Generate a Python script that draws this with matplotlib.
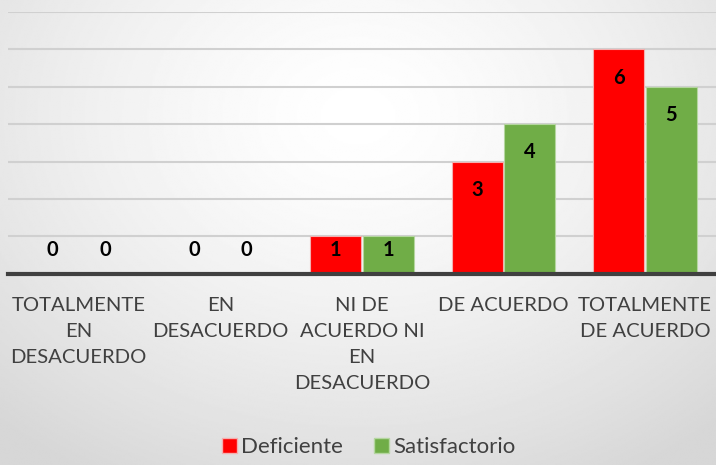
import numpy as np
import matplotlib.pyplot as plt
from matplotlib.patches import Patch

categorias = ["TOTALMENTE\nEN\nDESACUERDO", "EN\nDESACUERDO",
              "NI DE\nACUERDO NI\nEN\nDESACUERDO", "DE ACUERDO",
              "TOTALMENTE\nDE ACUERDO"]
deficiente = [0, 0, 1, 3, 6]
satisfactorio = [0, 0, 1, 4, 5]
series = ["Deficiente", "Satisfactorio"]
colores = ["#FF0000", "#70AD47"]
bordes = ["#f4b0b0", "#b5d6a0"]

plt.rcParams['font.family'] = ['Lato', 'DejaVu Sans']

fig = plt.figure(figsize=(7.16, 4.65), dpi=100)

# radial gray background
bg = fig.add_axes([0, 0, 1, 1], zorder=-10)
yy, xx = np.mgrid[0:1:300j, 0:1:460j]
r = np.sqrt(((xx - 0.5) / 0.75) ** 2 + ((yy - 0.25) / 0.9) ** 2)
shade = 1.0 - 0.16 * np.clip(r, 0, 1) ** 1.4
bg.imshow(shade, cmap="gray", vmin=0, vmax=1, aspect="auto",
          extent=[0, 1, 1, 0], interpolation="bilinear")
bg.axis("off")

ax = fig.add_axes([0.011, 0.411, 0.989, 0.563])
ax.set_facecolor("none")

x = np.arange(len(categorias))
w = 0.36
for i, (vals, nombre, col) in enumerate(zip([deficiente, satisfactorio], series, colores)):
    pos = x + (i - 0.5) * (w + 0.01)
    ax.bar(pos, vals, width=w, color=col, edgecolor=bordes[i],
           linewidth=0.8, zorder=3, label=nombre)
    for px, v in zip(pos, vals):
        ax.text(px, max(v - 0.75, 0.64), str(v), ha="center", va="center",
                fontsize=14.5, fontweight="bold", color="black", zorder=4)

ax.set_xlim(-0.5, len(categorias) - 0.5)
ax.set_ylim(0, 7)
ax.set_yticks(range(1, 8))
ax.yaxis.grid(True, color="#d0d0d0", linewidth=1.5, zorder=0)
ax.tick_params(axis="y", left=False, labelleft=False)
ax.tick_params(axis="x", length=0, pad=17)
ax.set_xticks(x)
ax.set_xticklabels(categorias, fontsize=14.6, color="#404040", linespacing=1.63)
for s in ["top", "right", "left"]:
    ax.spines[s].set_visible(False)
ax.spines["bottom"].set_color("#404040")
ax.spines["bottom"].set_linewidth(3)
ax.spines["bottom"].set_zorder(5)

handles = [Patch(facecolor=c, edgecolor=b, label=n)
           for c, b, n in zip(colores, bordes, series)]
fig.legend(handles=handles, loc="center", bbox_to_anchor=(0.515, 0.038), ncol=2,
           frameon=False, fontsize=16, handlelength=0.65, handleheight=0.65,
           handletextpad=0.2, columnspacing=1.4, labelcolor="#404040")

fig.savefig("out.png", dpi=100)
